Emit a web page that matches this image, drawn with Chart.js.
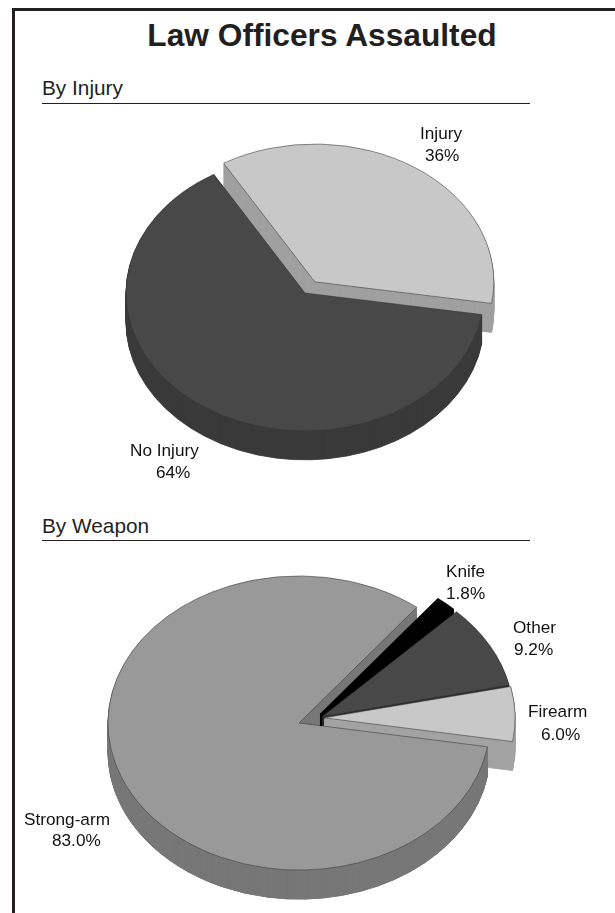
<!DOCTYPE html>
<html>
<head>
<meta charset="utf-8">
<script src="https://cdn.jsdelivr.net/npm/chart.js@4"></script>
<style>
  html, body { margin: 0; padding: 0; background: #fff; }
  body { width: 615px; height: 913px; position: relative; overflow: hidden; font-family: "Liberation Sans", sans-serif; color: #231f20; }
  canvas { position: absolute; left: 0; }
  .frame-top { position: absolute; left: 12px; right: 0; top: 8px; height: 3px; background: #231f20; }
  .frame-left { position: absolute; left: 12px; top: 8px; bottom: 0; width: 3px; background: #231f20; }
  .title { position: absolute; left: 0; width: 644px; top: 17px; text-align: center; font-size: 31.7px; line-height: 36px; font-weight: bold; }
  .head { position: absolute; left: 42px; width: 488px; font-size: 20.8px; line-height: 24px; height: 27px; border-bottom: 1.5px solid #231f20; }
  .lbl { position: absolute; font-size: 17.2px; line-height: 20px; white-space: nowrap; color: #111; }
</style>
</head>
<body>
<div class="frame-top"></div>
<div class="frame-left"></div>
<div class="title">Law Officers Assaulted</div>
<div class="head" style="top:76px">By Injury</div>
<div class="head" style="top:514px;height:26px">By Weapon</div>
<canvas id="injury-chart" width="610" height="370" style="top:108px"></canvas>
<canvas id="weapon-chart" width="598" height="380" style="top:533px"></canvas>
<script>
// By Injury
const injuryLabels = ['Injury', 'No Injury'];
const injuryValues = [36, 64];
const injuryText = ['36%', '64%'];

// By Weapon
const weaponLabels = ['Strong-arm', 'Knife', 'Other', 'Firearm'];
const weaponValues = [83.0, 1.8, 9.2, 6.0];
const weaponText = ['83.0%', '1.8%', '9.2%', '6.0%'];

const TILT = 0.77;
const DEPTH = 29;

// draws one slice with its side wall, back layer first
function drawSlice(ctx, arc, look) {
    const base = arc.options;
    const rad = look.angle * Math.PI / 180;
    const dx = look.pull * Math.sin(rad);
    const dy = -look.pull * Math.cos(rad) * TILT;
    for (let s = DEPTH; s >= 0; s--) {
        const over = Object.create(base);
        over.backgroundColor = s ? look.side : look.top;
        over.borderColor = s ? look.side : (look.line || '#333333');
        over.borderWidth = s ? 1 : 0.6;
        ctx.save();
        ctx.translate(arc.x + dx, arc.y + dy + s);
        ctx.scale(1, TILT);
        ctx.translate(-arc.x, -arc.y);
        arc.options = over;
        arc.draw(ctx);
        arc.options = base;
        ctx.restore();
    }
}

function pie3d(looks, order, frontAgain) {
    return {
        id: 'pie3d',
        beforeDatasetDraw(chart) {
            const ctx = chart.ctx;
            const arcs = chart.getDatasetMeta(0).data;
            order.forEach(i => drawSlice(ctx, arcs[i], looks[i]));
            if (frontAgain !== undefined) {
                // front part of the big slice sits over the pulled slices' walls
                const arc = arcs[frontAgain];
                ctx.save();
                ctx.beginPath();
                ctx.rect(0, arc.y + 3, chart.width, chart.height);
                ctx.clip();
                drawSlice(ctx, arc, looks[frontAgain]);
                ctx.restore();
            }
            return false;
        },
    };
}

function makePie(id, labels, values, radius, rotation, plugin) {
    return new Chart(document.getElementById(id).getContext('2d'), {
        type: 'pie',
        data: {
            labels: labels,
            datasets: [{ data: values, radius: radius, borderWidth: 0.6, borderColor: '#333333' }],
        },
        options: {
            responsive: false,
            animation: false,
            rotation: rotation,
            layout: { padding: 0 },
            plugins: { legend: { display: false }, tooltip: { enabled: false } },
        },
        plugins: [plugin],
    });
}

const injuryLooks = [
    { top: '#c8c8c8', side: '#a0a0a0', pull: 17.5, angle: 34 },
    { top: '#484848', side: '#3a3a3a', pull: 0, angle: 0 },
];
const weaponLooks = [
    { top: '#999999', side: '#777777', pull: 0, angle: 0 },
    { top: '#000000', side: '#000000', line: '#000000', pull: 24, angle: 61 },
    { top: '#484848', side: '#2e2e2e', pull: 25, angle: 70 },
    { top: '#c8c8c8', side: '#a3a3a3', pull: 26, angle: 75 },
];

makePie('injury-chart', injuryLabels, injuryValues, 179, -30.6, pie3d(injuryLooks, [0, 1]));
makePie('weapon-chart', weaponLabels, weaponValues, 191, 99.3, pie3d(weaponLooks, [0, 1, 2, 3], 0));

// slice captions: [name left, name centre y, value left, value centre y]
const injurySpots = [[420, 133, 425, 155], [130, 450, 156, 472]];
const weaponSpots = [[24, 819, 52, 840], [446, 571, 446, 593], [513, 627, 514, 649], [528, 711, 541, 734]];

function addCaptions(labels, text, spots) {
    labels.forEach((name, i) => {
        const s = spots[i];
        [[name, s[0], s[1]], [text[i], s[2], s[3]]].forEach(([t, x, y]) => {
            const el = document.createElement('div');
            el.className = 'lbl';
            el.textContent = t;
            el.style.left = x + 'px';
            el.style.top = (y - 10) + 'px';
            document.body.appendChild(el);
        });
    });
}
addCaptions(injuryLabels, injuryText, injurySpots);
addCaptions(weaponLabels, weaponText, weaponSpots);
</script>
</body>
</html>
